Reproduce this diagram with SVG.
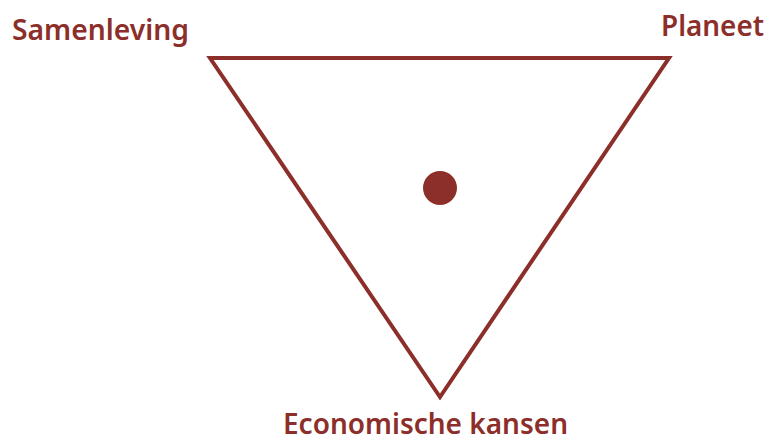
<svg xmlns="http://www.w3.org/2000/svg" width="769" height="443" viewBox="0 0 769 443">
<style>
.lbl{font-family:"Noto Sans","Open Sans","Liberation Sans",sans-serif;font-weight:600;font-size:29px;fill:#8c2f2a}
</style>
<rect width="769" height="443" fill="#fff"/>
<g id="triangle"><polygon points="210,58 669,58 440,397" fill="none" stroke="#8c2f2a" stroke-width="4" stroke-linejoin="miter"/></g>
<g id="center"><circle cx="440" cy="188" r="17" fill="#8c2f2a"/></g>
<g id="samenleving"><text class="lbl" x="12" y="40" textLength="177" lengthAdjust="spacingAndGlyphs">Samenleving</text></g>
<g id="planeet"><text class="lbl" x="661" y="36" textLength="103" lengthAdjust="spacingAndGlyphs">Planeet</text></g>
<g id="economische"><text class="lbl" x="283" y="434" font-size="27" textLength="285" lengthAdjust="spacingAndGlyphs">Economische kansen</text></g>
<g id="connectors"/>
</svg>
